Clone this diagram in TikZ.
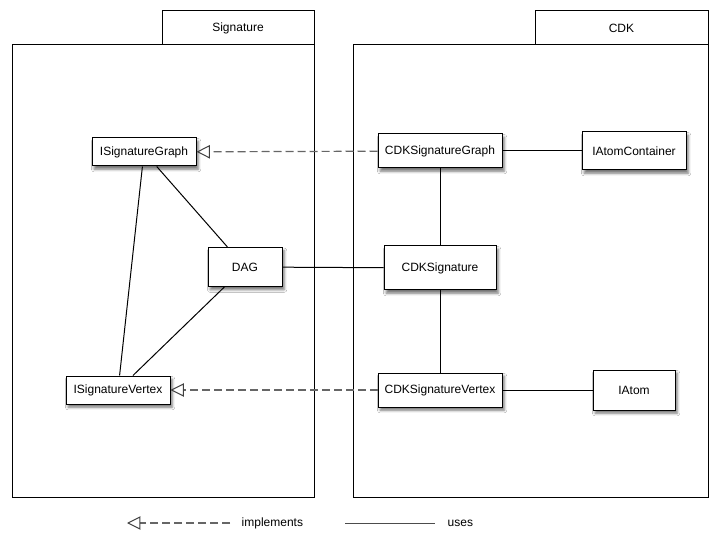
\documentclass[tikz,border=0pt]{standalone}
\usepackage{fontspec}
\setmainfont{Liberation Sans}
\usetikzlibrary{shadows.blur}
\usetikzlibrary{arrows.meta}
\usetikzlibrary{positioning}

\tikzset{
  classbox/.style={draw=black,line width=0.75pt,fill=white,font=\fontsize{9}{11}\selectfont,
    blur shadow={shadow xshift=1.6pt,shadow yshift=-2.4pt,shadow blur radius=2pt,shadow opacity=55},inner sep=2pt},
  pkgtab/.style={draw=black,line width=0.75pt,fill=white,font=\fontsize{9}{11}\selectfont},
  uses/.style={draw=black,line width=0.75pt},
  implements/.style={draw=black!60,line width=0.9pt,dash pattern=on 6pt off 3pt,
    -{Triangle[open,length=10pt,width=10pt,line width=0.75pt,color=black!75]}},
}

\begin{document}
\begin{tikzpicture}[x=0.75pt,y=-0.75pt]
\useasboundingbox[fill=white] (0,0) rectangle (719,542);

% packages
\draw[line width=0.75pt] (12,45) rectangle (314,497);
\node[pkgtab,minimum width=114pt,minimum height=25.5pt] (sigtab) at (238,28) {Signature};
\draw[line width=0.75pt] (353,45) rectangle (708,497);
\node[pkgtab,minimum width=129.75pt,minimum height=25.5pt] (cdktab) at (621.5,28) {CDK};

% Signature classes
\node[classbox,minimum width=78pt,minimum height=21pt] (isg) at (144,152) {ISignatureGraph};
\node[classbox,minimum width=55.5pt,minimum height=29.25pt] (dag) at (245,267) {DAG};
\node[classbox,minimum width=78pt,minimum height=21pt] (isv) at (118,390) {ISignatureVertex};

% CDK classes
\node[classbox,minimum width=93pt,minimum height=25.5pt] (csg) at (440,151) {CDKSignatureGraph};
\node[classbox,minimum width=78pt,minimum height=28.5pt] (iac) at (634,151) {IAtomContainer};
\node[classbox,minimum width=84pt,minimum height=33pt] (cs) at (440,268) {CDKSignature};
\node[classbox,minimum width=93pt,minimum height=25.5pt] (csv) at (440,390) {CDKSignatureVertex};
\node[classbox,minimum width=61.5pt,minimum height=30pt] (iat) at (634,390) {IAtom};

% uses
\draw[uses] (isg) -- (isv);
\draw[uses] (isg) -- (dag);
\draw[uses] (dag) -- (isv);
\draw[uses] (dag) -- (cs);
\draw[uses] (csg) -- (cs);
\draw[uses] (cs) -- (csv);
\draw[uses] (csg) -- (iac);
\draw[uses] (csv) -- (iat);

% implements
\draw[implements] (csg) -- (isg);
\draw[implements] (csv) -- (isv);

% legend
\coordinate (implA) at (230,523);
\coordinate (implB) at (127,523);
\node[font=\fontsize{9}{11}\selectfont,anchor=west] (impl) at (237,523) {implements};
\draw[implements] (implA) -- (implB);
\coordinate (usesA) at (345,523);
\coordinate (usesB) at (435,523);
\node[font=\fontsize{9}{11}\selectfont,anchor=west] (usestxt) at (443,523) {uses};
\draw[uses,draw=black!70] (usesA) -- (usesB);

\end{tikzpicture}
\end{document}
